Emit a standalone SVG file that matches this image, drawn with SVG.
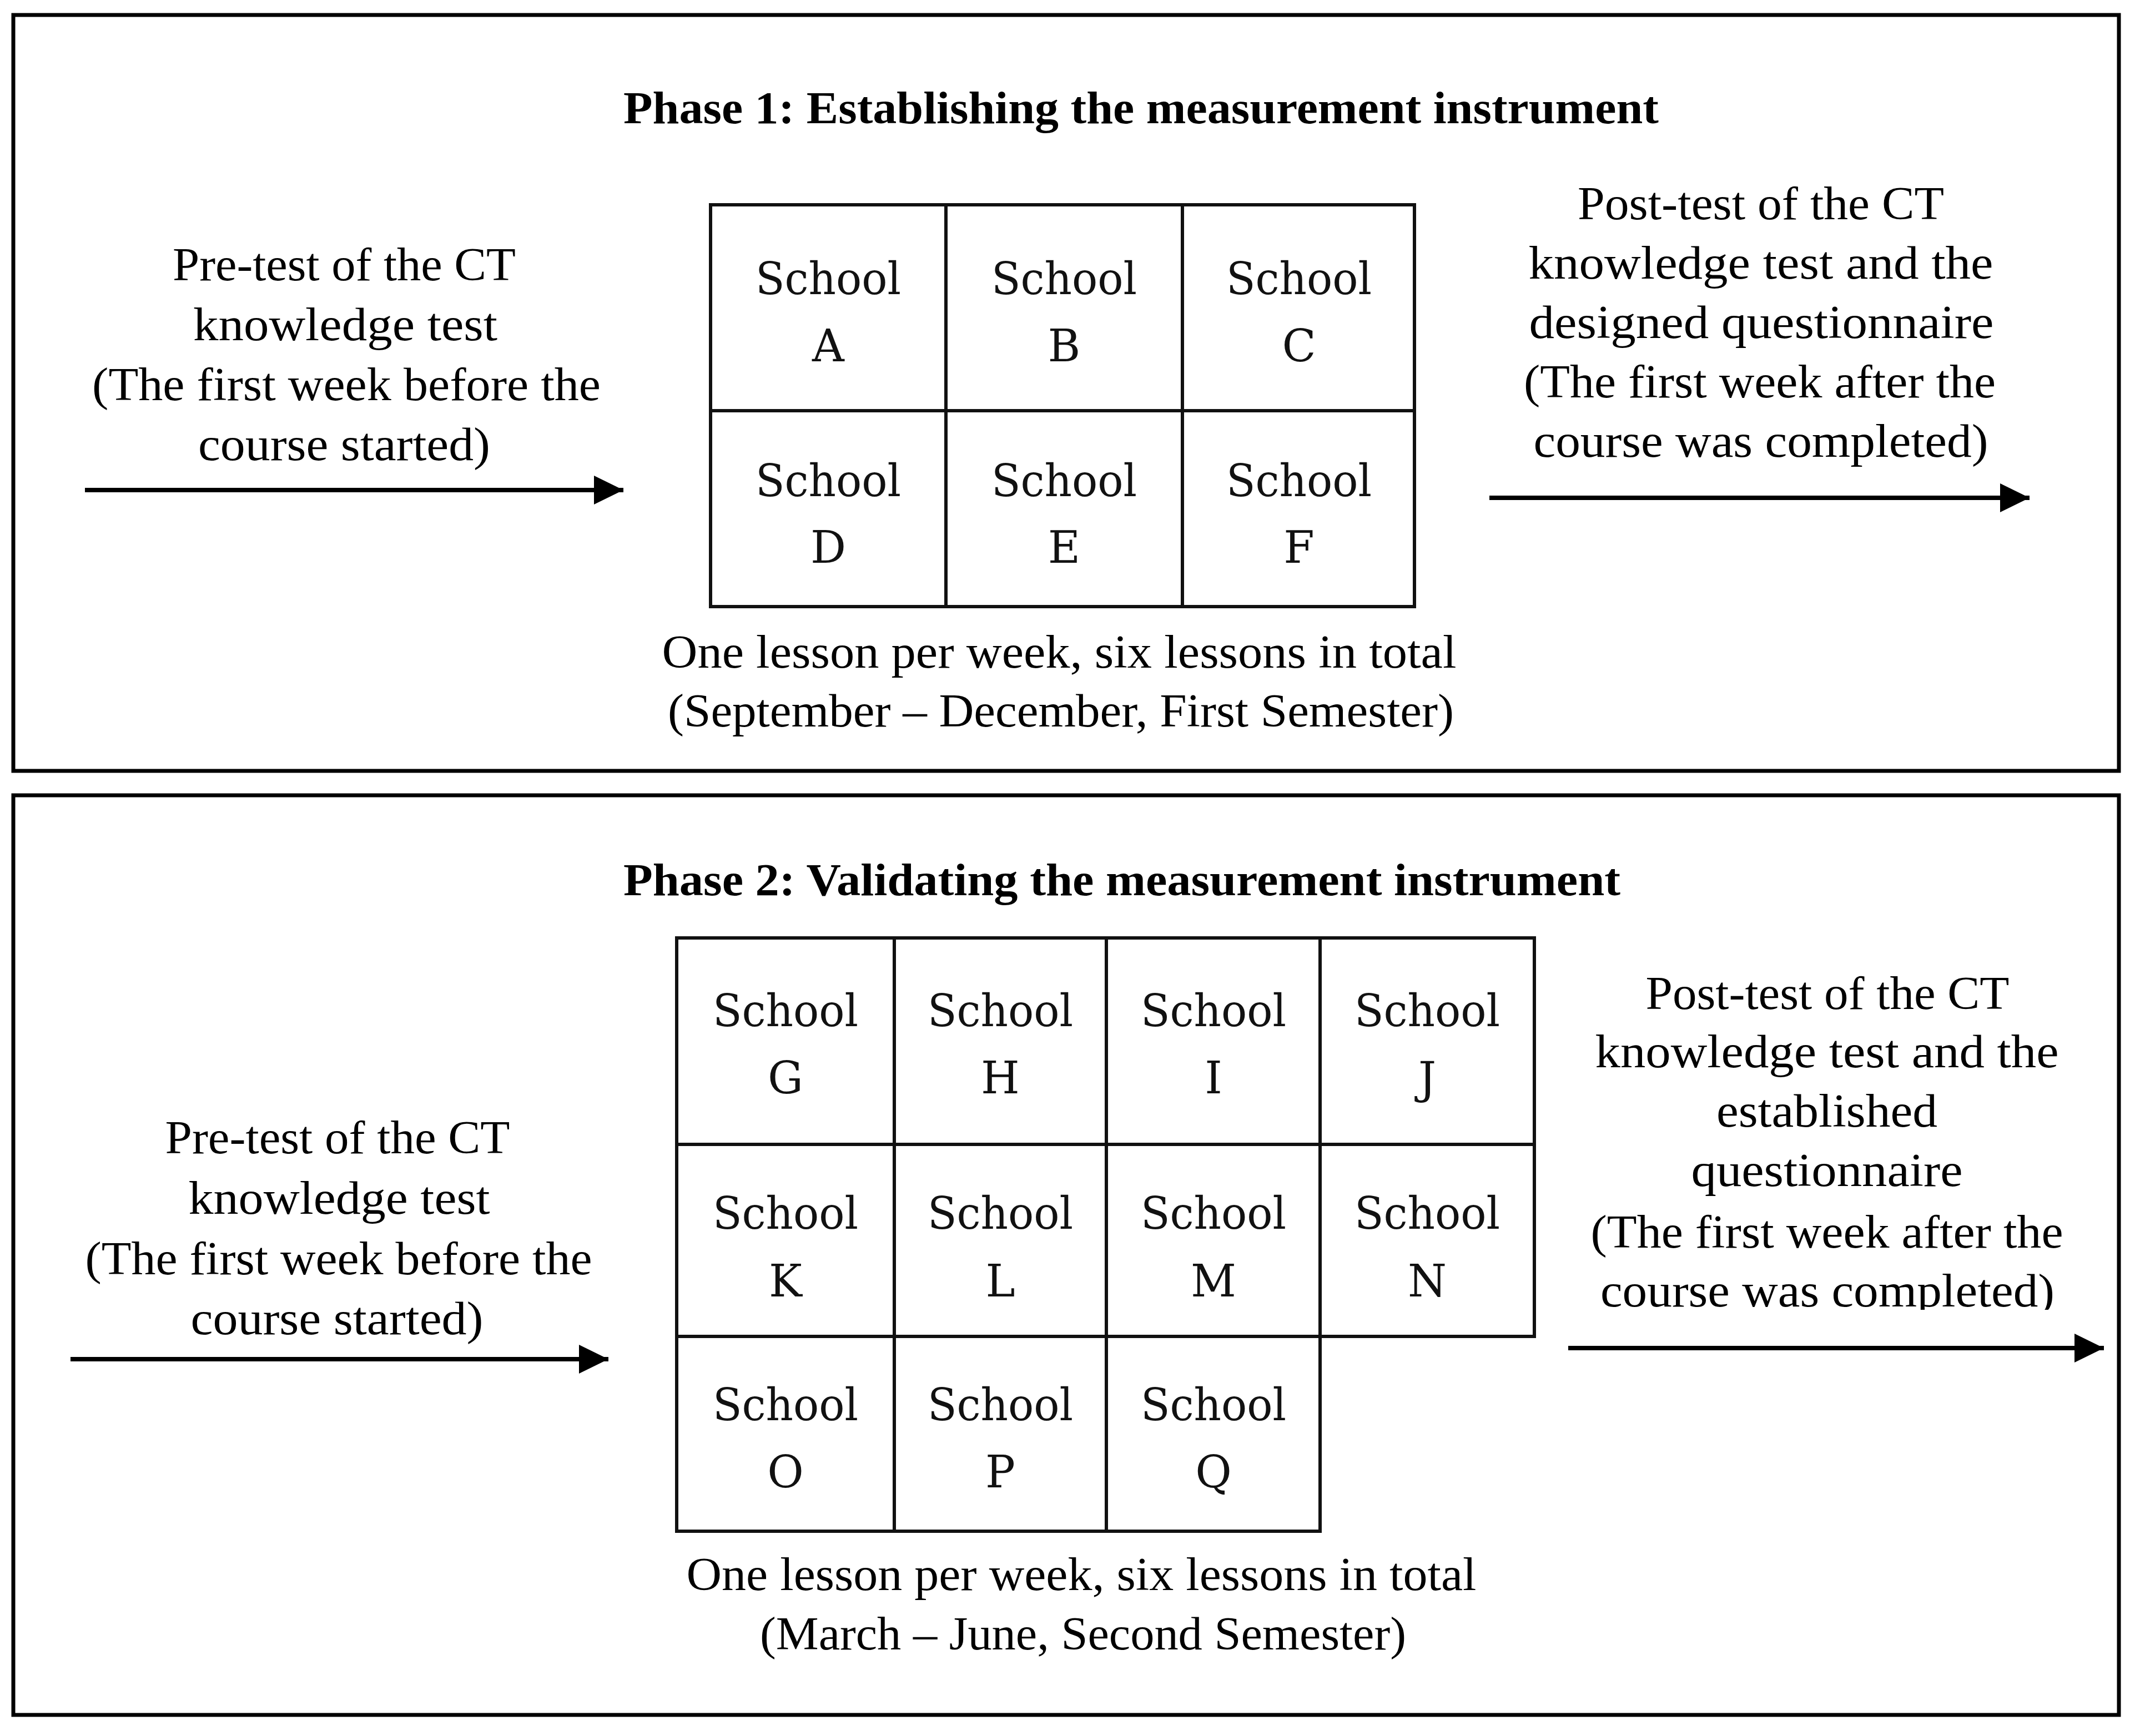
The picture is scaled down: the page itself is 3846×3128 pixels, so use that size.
<svg xmlns="http://www.w3.org/2000/svg" width="3846" height="3128" viewBox="0 0 3846 3128">
<style>
.frame{fill:none;stroke:#000;stroke-width:7}
.cell{fill:#fff;stroke:#111;stroke-width:6}
.txt{font-family:"Liberation Serif","Times New Roman",serif;font-size:84px;fill:#000;text-anchor:middle}
.title{font-family:"Liberation Serif","Times New Roman",serif;font-size:82px;font-weight:bold;fill:#000}
.sch{font-family:"DejaVu Serif",serif;font-size:80px;fill:#111;text-anchor:middle}
.conn{stroke:#000;stroke-width:8;fill:none;marker-end:url(#ah)}
</style>
<defs>
<marker id="ah" markerUnits="userSpaceOnUse" markerWidth="56" markerHeight="54" refX="53" refY="26" orient="auto">
<path d="M0,0 L53,26 L0,52 Z" fill="#000"/>
</marker>
<clipPath id="clipLast"><rect x="2700" y="2250" width="1100" height="110"/></clipPath>
</defs>
<rect width="3846" height="3128" fill="#fff"/>

<g id="phase1">
<rect class="frame" x="24" y="27" width="3793" height="1362"/>
<text class="title" x="1123" y="222" textLength="1865" lengthAdjust="spacingAndGlyphs">Phase 1: Establishing the measurement instrument</text>
</g>

<g id="pretest1">
<text class="txt" x="620" y="505" textLength="618" lengthAdjust="spacingAndGlyphs">Pre-test of the CT</text>
<text class="txt" x="622" y="613" textLength="548" lengthAdjust="spacingAndGlyphs">knowledge test</text>
<text class="txt" x="624" y="721" textLength="916" lengthAdjust="spacingAndGlyphs">(The first week before the</text>
<text class="txt" x="620" y="829" textLength="526" lengthAdjust="spacingAndGlyphs">course started)</text>
</g>

<g id="posttest1">
<text class="txt" x="3172" y="395" textLength="660" lengthAdjust="spacingAndGlyphs">Post-test of the CT</text>
<text class="txt" x="3172" y="502" textLength="837" lengthAdjust="spacingAndGlyphs">knowledge test and the</text>
<text class="txt" x="3173" y="609" textLength="837" lengthAdjust="spacingAndGlyphs">designed questionnaire</text>
<text class="txt" x="3170" y="716" textLength="850" lengthAdjust="spacingAndGlyphs">(The first week after the</text>
<text class="txt" x="3172" y="823" textLength="819" lengthAdjust="spacingAndGlyphs">course was completed)</text>
</g>

<g id="grid1">
<g id="schoolA"><rect class="cell" x="1280" y="369" width="424" height="371"/><text class="sch" x="1492" y="530" textLength="262" lengthAdjust="spacingAndGlyphs">School</text><text class="sch" x="1492" y="651">A</text></g>
<g id="schoolB"><rect class="cell" x="1704" y="369" width="426" height="371"/><text class="sch" x="1917" y="530" textLength="262" lengthAdjust="spacingAndGlyphs">School</text><text class="sch" x="1917" y="651">B</text></g>
<g id="schoolC"><rect class="cell" x="2130" y="369" width="418" height="371"/><text class="sch" x="2340" y="530" textLength="262" lengthAdjust="spacingAndGlyphs">School</text><text class="sch" x="2340" y="651">C</text></g>
<g id="schoolD"><rect class="cell" x="1280" y="740" width="424" height="353"/><text class="sch" x="1492" y="894" textLength="262" lengthAdjust="spacingAndGlyphs">School</text><text class="sch" x="1492" y="1014">D</text></g>
<g id="schoolE"><rect class="cell" x="1704" y="740" width="426" height="353"/><text class="sch" x="1917" y="894" textLength="262" lengthAdjust="spacingAndGlyphs">School</text><text class="sch" x="1917" y="1014">E</text></g>
<g id="schoolF"><rect class="cell" x="2130" y="740" width="418" height="353"/><text class="sch" x="2340" y="894" textLength="262" lengthAdjust="spacingAndGlyphs">School</text><text class="sch" x="2340" y="1014">F</text></g>
</g>

<g id="caption1">
<text class="txt" x="1908" y="1203" textLength="1431" lengthAdjust="spacingAndGlyphs">One lesson per week, six lessons in total</text>
<text class="txt" x="1911" y="1309" textLength="1416" lengthAdjust="spacingAndGlyphs">(September – December, First Semester)</text>
</g>

<g id="phase2">
<rect class="frame" x="24" y="1433" width="3793" height="1657"/>
<text class="title" x="1123" y="1613" textLength="1796" lengthAdjust="spacingAndGlyphs">Phase 2: Validating the measurement instrument</text>
</g>

<g id="pretest2">
<text class="txt" x="608" y="2078" textLength="621" lengthAdjust="spacingAndGlyphs">Pre-test of the CT</text>
<text class="txt" x="611" y="2187" textLength="543" lengthAdjust="spacingAndGlyphs">knowledge test</text>
<text class="txt" x="610" y="2296" textLength="913" lengthAdjust="spacingAndGlyphs">(The first week before the</text>
<text class="txt" x="607" y="2404" textLength="527" lengthAdjust="spacingAndGlyphs">course started)</text>
</g>

<g id="posttest2">
<text class="txt" x="3292" y="1818" textLength="655" lengthAdjust="spacingAndGlyphs">Post-test of the CT</text>
<text class="txt" x="3291" y="1923" textLength="835" lengthAdjust="spacingAndGlyphs">knowledge test and the</text>
<text class="txt" x="3291" y="2030" textLength="398" lengthAdjust="spacingAndGlyphs">established</text>
<text class="txt" x="3291" y="2137" textLength="489" lengthAdjust="spacingAndGlyphs">questionnaire</text>
<text class="txt" x="3291" y="2248" textLength="851" lengthAdjust="spacingAndGlyphs">(The first week after the</text>
<text class="txt" x="3292" y="2354" textLength="818" lengthAdjust="spacingAndGlyphs" clip-path="url(#clipLast)">course was completed)</text>
</g>

<g id="grid2">
<g id="schoolG"><rect class="cell" x="1219" y="1690" width="392" height="372"/><text class="sch" x="1415" y="1849" textLength="262" lengthAdjust="spacingAndGlyphs">School</text><text class="sch" x="1415" y="1970">G</text></g>
<g id="schoolH"><rect class="cell" x="1611" y="1690" width="382" height="372"/><text class="sch" x="1802" y="1849" textLength="262" lengthAdjust="spacingAndGlyphs">School</text><text class="sch" x="1802" y="1970">H</text></g>
<g id="schoolI"><rect class="cell" x="1993" y="1690" width="385" height="372"/><text class="sch" x="2186" y="1849" textLength="262" lengthAdjust="spacingAndGlyphs">School</text><text class="sch" x="2186" y="1970">I</text></g>
<g id="schoolJ"><rect class="cell" x="2378" y="1690" width="386" height="372"/><text class="sch" x="2571" y="1849" textLength="262" lengthAdjust="spacingAndGlyphs">School</text><text class="sch" x="2571" y="1970">J</text></g>
<g id="schoolK"><rect class="cell" x="1219" y="2062" width="392" height="346"/><text class="sch" x="1415" y="2214" textLength="262" lengthAdjust="spacingAndGlyphs">School</text><text class="sch" x="1415" y="2336">K</text></g>
<g id="schoolL"><rect class="cell" x="1611" y="2062" width="382" height="346"/><text class="sch" x="1802" y="2214" textLength="262" lengthAdjust="spacingAndGlyphs">School</text><text class="sch" x="1802" y="2336">L</text></g>
<g id="schoolM"><rect class="cell" x="1993" y="2062" width="385" height="346"/><text class="sch" x="2186" y="2214" textLength="262" lengthAdjust="spacingAndGlyphs">School</text><text class="sch" x="2186" y="2336">M</text></g>
<g id="schoolN"><rect class="cell" x="2378" y="2062" width="386" height="346"/><text class="sch" x="2571" y="2214" textLength="262" lengthAdjust="spacingAndGlyphs">School</text><text class="sch" x="2571" y="2336">N</text></g>
<g id="schoolO"><rect class="cell" x="1219" y="2408" width="392" height="351"/><text class="sch" x="1415" y="2559" textLength="262" lengthAdjust="spacingAndGlyphs">School</text><text class="sch" x="1415" y="2680">O</text></g>
<g id="schoolP"><rect class="cell" x="1611" y="2408" width="382" height="351"/><text class="sch" x="1802" y="2559" textLength="262" lengthAdjust="spacingAndGlyphs">School</text><text class="sch" x="1802" y="2680">P</text></g>
<g id="schoolQ"><rect class="cell" x="1993" y="2408" width="385" height="351"/><text class="sch" x="2186" y="2559" textLength="262" lengthAdjust="spacingAndGlyphs">School</text><text class="sch" x="2186" y="2680">Q</text></g>
</g>

<g id="caption2">
<text class="txt" x="1948" y="2865" textLength="1423" lengthAdjust="spacingAndGlyphs">One lesson per week, six lessons in total</text>
<text class="txt" x="1951" y="2972" textLength="1164" lengthAdjust="spacingAndGlyphs">(March – June, Second Semester)</text>
</g>

<g id="connectors">
<line class="conn" x1="153" y1="883" x2="1123" y2="883"/>
<line class="conn" x1="2683" y1="897" x2="3656" y2="897"/>
<line class="conn" x1="127" y1="2449" x2="1096" y2="2449"/>
<line class="conn" x1="2825" y1="2429" x2="3790" y2="2429"/>
</g>
</svg>
